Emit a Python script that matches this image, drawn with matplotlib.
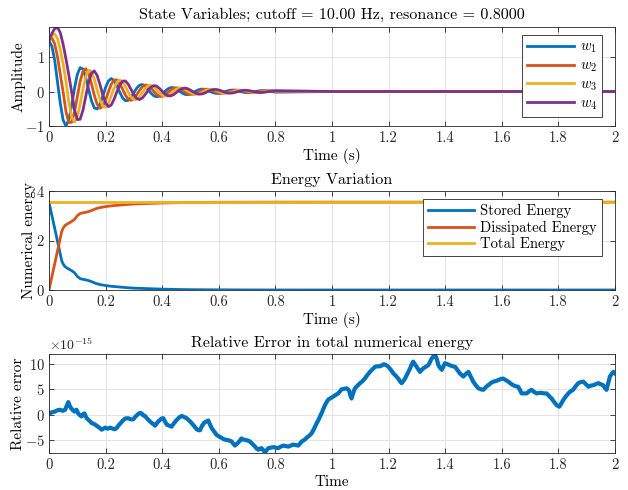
import numpy as np
import matplotlib
matplotlib.use("Agg")
import matplotlib.pyplot as plt
from matplotlib.ticker import ScalarFormatter

plt.rcParams['font.family'] = 'serif'
plt.rcParams['font.serif'] = ['cmr10']
plt.rcParams['mathtext.fontset'] = 'cm'
plt.rcParams['axes.unicode_minus'] = False
plt.rcParams['axes.formatter.use_mathtext'] = True

# MATLAB default colour order
c_blue, c_orange, c_yellow, c_purple = '#0072BD', '#D95319', '#EDB120', '#7E2F8E'

# --- state variables (0.01 s steps up to 0.8 s) ---
t_state = list(np.round(np.arange(0, 0.805, 0.01), 2)) + [1.0, 2.0]
w1 = [1.48, 1.33, 0.92, 0.28, -0.35, -0.84, -1.01, -0.83, -0.41, 0.085,
      0.50, 0.70, 0.66, 0.41, 0.063, -0.27, -0.48, -0.51, -0.38, -0.14,
      0.12, 0.31, 0.38, 0.32, 0.17, -0.023, -0.185, -0.269, -0.259, -0.167,
      -0.032, 0.100, 0.186, 0.204, 0.155, 0.061, -0.043, -0.123, -0.155, -0.135,
      -0.073, 0.006, 0.076, 0.114, 0.113, 0.075, 0.017, -0.042, -0.082, -0.092,
      -0.072, -0.030, 0.018, 0.055, 0.072, 0.064, 0.036, -0.001, -0.034, -0.054,
      -0.054, -0.037, -0.010, 0.019, 0.038, 0.044, 0.035, 0.015, -0.007, -0.026,
      -0.034, -0.031, -0.018, 0.000, 0.016, 0.026, 0.026, 0.018, 0.005, -0.008,
      -0.018, 0.0, 0.0]
w2 = [1.50, 1.57, 1.40, 1.02, 0.50, -0.02, -0.591, -0.909, -0.900, -0.605,
      -0.153, 0.293, 0.592, 0.667, 0.525, 0.229, -0.106, -0.371, -0.489, -0.436,
      -0.250, -0.006, 0.212, 0.337, 0.341, 0.236, 0.067, -0.104, -0.224, -0.259,
      -0.208, -0.096, 0.035, 0.142, 0.192, 0.175, 0.104, 0.007, -0.083, -0.137,
      -0.142, -0.102, -0.032, 0.041, 0.094, 0.111, 0.092, 0.045, -0.013, -0.061,
      -0.085, -0.080, -0.049, -0.006, 0.036, 0.063, 0.067, 0.049, 0.017, -0.018,
      -0.043, -0.053, -0.044, -0.023, 0.005, 0.028, 0.041, 0.039, 0.024, 0.004,
      -0.016, -0.029, -0.032, -0.024, -0.009, 0.008, 0.020, 0.025, 0.022, 0.011,
      -0.002, 0.0, 0.0]
w3 = [1.50, 1.64, 1.69, 1.55, 1.22, 0.80, 0.30, -0.310, -0.748, -0.895,
      -0.740, -0.368, 0.076, 0.442, 0.625, 0.587, 0.368, 0.056, -0.240, -0.427,
      -0.457, -0.336, -0.123, 0.105, 0.273, 0.335, 0.284, 0.148, -0.021, -0.165,
      -0.239, -0.231, -0.149, -0.028, 0.089, 0.166, 0.181, 0.138, 0.054, -0.038,
      -0.109, -0.138, -0.120, -0.065, 0.005, 0.067, 0.102, 0.100, 0.067, 0.015,
      -0.037, -0.073, -0.082, -0.064, -0.027, 0.016, 0.049, 0.064, 0.057, 0.032,
      -0.001, -0.031, -0.048, -0.048, -0.033, -0.008, 0.017, 0.034, 0.039, 0.031,
      0.014, -0.006, -0.023, -0.030, -0.027, -0.016, 0.000, 0.014, 0.023, 0.023,
      0.016, 0.0, 0.0]
w4 = [1.50, 1.70, 1.84, 1.88, 1.72, 1.38, 0.95, 0.48, -0.014, -0.535,
      -0.822, -0.813, -0.547, -0.139, 0.265, 0.536, 0.604, 0.474, 0.207, -0.096,
      -0.336, -0.442, -0.394, -0.226, -0.006, 0.191, 0.305, 0.309, 0.213, 0.061,
      -0.094, -0.202, -0.235, -0.188, -0.087, 0.032, 0.128, 0.173, 0.159, 0.094,
      0.007, -0.075, -0.124, -0.129, -0.092, -0.029, 0.037, 0.085, 0.101, 0.083,
      0.040, -0.012, -0.055, -0.077, -0.072, -0.045, -0.005, 0.033, 0.057, 0.060,
      0.044, 0.015, -0.016, -0.039, -0.048, -0.040, -0.020, 0.004, 0.026, 0.037,
      0.035, 0.022, 0.003, -0.015, -0.026, -0.029, -0.022, -0.008, 0.007, 0.018,
      0.023, 0.0, 0.0]
state_labels = ['$w_1$', '$w_2$', '$w_3$', '$w_4$']

# --- energy ---
t_energy = [0, 0.01, 0.02, 0.03, 0.04, 0.045, 0.05, 0.057, 0.065, 0.08, 0.09,
            0.10, 0.11, 0.12, 0.13, 0.14, 0.15, 0.16, 0.17, 0.18, 0.20, 0.22,
            0.25, 0.28, 0.30, 0.35, 0.40, 0.45, 0.50, 0.60, 0.70, 0.80, 1.0, 2.0]
stored = [3.55, 3.02, 2.50, 1.97, 1.44, 1.18, 1.05, 0.94, 0.88, 0.78, 0.70,
          0.55, 0.46, 0.43, 0.41, 0.38, 0.34, 0.29, 0.25, 0.22, 0.18, 0.15,
          0.12, 0.09, 0.075, 0.055, 0.035, 0.022, 0.014, 0.007, 0.003, 0.001, 0.0, 0.0]
dissipated = [0.0, 0.53, 1.05, 1.58, 2.11, 2.37, 2.50, 2.61, 2.67, 2.77, 2.85,
              3.00, 3.09, 3.12, 3.14, 3.17, 3.21, 3.26, 3.30, 3.33, 3.37, 3.40,
              3.43, 3.46, 3.475, 3.495, 3.515, 3.528, 3.536, 3.543, 3.547, 3.549, 3.55, 3.55]
total = [3.55] * len(t_energy)

# --- relative error (units of 1e-15) ---
err_t = [0, 0.01, 0.021, 0.03, 0.039, 0.048, 0.057, 0.063, 0.068, 0.073, 0.078, 0.085, 0.09,
         0.097, 0.104, 0.11, 0.115, 0.12, 0.125, 0.133, 0.142, 0.151, 0.16, 0.168, 0.178,
         0.186, 0.192, 0.198, 0.207, 0.216, 0.225, 0.233, 0.24, 0.245, 0.255, 0.263, 0.27,
         0.28, 0.29, 0.298, 0.306, 0.316, 0.322, 0.327, 0.333, 0.339, 0.348, 0.357, 0.366,
         0.375, 0.384, 0.392, 0.398, 0.404, 0.41, 0.416, 0.425, 0.433, 0.442, 0.451, 0.46,
         0.469, 0.477, 0.486, 0.495, 0.504, 0.513, 0.522, 0.528, 0.534, 0.54, 0.549, 0.556,
         0.563, 0.569, 0.575, 0.584, 0.592, 0.6, 0.61, 0.619, 0.628, 0.637, 0.645, 0.651,
         0.657, 0.663, 0.669, 0.675, 0.68, 0.685, 0.693, 0.702, 0.71, 0.719, 0.728, 0.734,
         0.74, 0.746, 0.751, 0.757, 0.763, 0.769, 0.775, 0.784, 0.793, 0.802, 0.81, 0.819,
         0.828, 0.837, 0.846, 0.855, 0.863, 0.872, 0.881, 0.887, 0.893, 0.902, 0.91, 0.919,
         0.928, 0.934, 0.94, 0.946, 0.952, 0.958, 0.963, 0.969, 0.975, 0.981, 0.987, 0.996,
         1.005, 1.013, 1.022, 1.028, 1.034, 1.043, 1.052, 1.06, 1.066, 1.069, 1.075, 1.081,
         1.09, 1.099, 1.108, 1.116, 1.125, 1.134, 1.143, 1.152, 1.161, 1.17, 1.177, 1.184,
         1.192, 1.199, 1.208, 1.217, 1.226, 1.234, 1.24, 1.246, 1.252, 1.258, 1.267, 1.276,
         1.281, 1.287, 1.293, 1.299, 1.305, 1.311, 1.317, 1.323, 1.331, 1.34, 1.346, 1.352,
         1.358, 1.364, 1.37, 1.376, 1.382, 1.388, 1.394, 1.399, 1.408, 1.417, 1.426, 1.435,
         1.443, 1.452, 1.458, 1.464, 1.473, 1.482, 1.49, 1.499, 1.508, 1.517, 1.526, 1.535,
         1.543, 1.552, 1.561, 1.57, 1.579, 1.588, 1.596, 1.605, 1.614, 1.623, 1.632, 1.64,
         1.649, 1.658, 1.664, 1.67, 1.679, 1.688, 1.696, 1.705, 1.714, 1.723, 1.732, 1.741,
         1.75, 1.758, 1.767, 1.776, 1.785, 1.794, 1.803, 1.81, 1.817, 1.826, 1.835, 1.843,
         1.852, 1.861, 1.87, 1.879, 1.888, 1.897, 1.906, 1.914, 1.923, 1.932, 1.941, 1.95,
         1.958, 1.964, 1.97, 1.976, 1.982, 1.988, 1.994, 2.0]
err_val = [0.2, 0.5, 0.65, 0.9, 1.0, 0.8, 1.0, 1.8, 2.5, 1.8, 1.3, 0.9, 0.65,
           1.0, 0.2, -0.1, -0.3, 0.1, 0.3, -0.65, -1.1, -1.6, -1.8, -2.1, -2.5,
           -2.9, -2.7, -2.5, -2.7, -2.5, -2.7, -2.8, -2.5, -2.1, -1.5, -1.0, -0.7,
           -0.65, -0.9, -0.85, -0.3, 0.2, 0.4, 0.3, -0.1, -0.2, -0.8, -1.3, -1.7,
           -2.1, -1.4, -1.0, -0.7, -0.65, -1.3, -1.9, -2.1, -2.3, -1.6, -1.0, -0.5,
           -0.2, -0.4, -0.65, -1.1, -1.6, -2.2, -2.8, -3.0, -3.0, -2.2, -1.5, -1.3,
           -1.1, -1.9, -2.6, -3.3, -3.9, -4.2, -4.5, -4.8, -4.9, -5.0, -5.2, -5.6,
           -6.0, -5.7, -5.4, -5.0, -4.6, -4.8, -4.9, -5.0, -5.2, -5.7, -6.2, -6.6,
           -6.8, -6.6, -6.5, -6.9, -7.3, -6.9, -6.5, -6.4, -6.3, -6.4, -6.5, -6.2,
           -6.0, -6.1, -6.2, -6.0, -5.8, -5.9, -6.0, -5.6, -5.2, -4.9, -4.5, -4.1,
           -3.6, -3.0, -2.3, -1.6, -1.0, -0.3, 0.3, 1.1, 1.9, 2.5, 3.0, 3.3,
           3.6, 3.9, 4.2, 4.6, 5.0, 5.1, 5.2, 4.8, 3.6, 3.2, 4.3, 5.2,
           5.7, 6.2, 6.6, 7.1, 7.8, 8.4, 8.9, 9.4, 9.5, 9.5, 9.7, 9.9,
           9.7, 9.4, 8.8, 8.1, 7.6, 7.1, 6.6, 6.2, 6.6, 7.1, 8.1, 9.1,
           9.8, 10.4, 9.9, 9.4, 8.9, 8.4, 8.8, 9.1, 9.4, 9.7, 10.3, 11.0,
           11.4, 11.7, 11.0, 9.7, 9.2, 8.8, 9.5, 10.1, 9.9, 9.7, 9.5, 9.4,
           8.8, 8.1, 7.8, 7.5, 8.0, 8.4, 7.5, 6.5, 5.8, 5.2, 5.0, 4.9,
           5.4, 5.8, 6.2, 6.5, 6.6, 6.8, 7.0, 7.1, 6.8, 6.5, 6.1, 5.8,
           5.6, 5.5, 4.9, 4.2, 4.2, 4.2, 4.6, 4.9, 4.5, 4.2, 4.3, 4.3,
           4.2, 4.2, 3.7, 3.2, 2.5, 1.9, 1.6, 2.2, 2.9, 3.6, 4.2, 4.6,
           4.9, 5.6, 6.2, 6.4, 6.5, 6.0, 5.5, 5.7, 5.8, 6.0, 6.2, 6.0,
           5.8, 5.3, 4.9, 6.2, 7.5, 8.0, 8.4, 8.1]

W, H = 628, 490
fig = plt.figure(figsize=(W / 100, H / 100), dpi=100)


def make_axes(top_px, bottom_px):
    ax = fig.add_axes([49 / W, 1 - bottom_px / H, 566 / W, (bottom_px - top_px) / H])
    ax.grid(True, color='#e3e3e3', linewidth=0.7)
    ax.set_axisbelow(True)
    ax.tick_params(direction='in', top=True, right=True, length=3.5, width=0.6,
                   labelsize=10.5, colors='#262626', pad=4)
    ax.tick_params(axis='y', pad=3)
    for s in ax.spines.values():
        s.set_color('#262626')
        s.set_linewidth(0.6)
    ax.set_xlim(0, 2)
    ax.set_xticks(np.arange(0, 2.01, 0.2))
    ax.set_xticklabels(['0', '0.2', '0.4', '0.6', '0.8', '1', '1.2', '1.4', '1.6', '1.8', '2'])
    return ax


def add_legend(ax, **kw):
    leg = ax.legend(loc='upper right', bbox_to_anchor=(1 - 13 / 566, 1 - 8 / 99),
                    borderaxespad=0, fancybox=False, framealpha=1, edgecolor='#262626',
                    fontsize=10.5, handlelength=3.2, handletextpad=0.4,
                    borderpad=0.35, **kw)
    leg.get_frame().set_linewidth(0.6)
    return leg


# panel 1
ax1 = make_axes(27, 126)
for w, c, lab in zip([w1, w2, w3, w4], [c_blue, c_orange, c_yellow, c_purple], state_labels):
    ax1.plot(t_state, w, color=c, linewidth=2, label=lab)
ax1.set_ylim(-1.01, 1.89)
ax1.set_yticks([-1, 0, 1])
ax1.set_title('State Variables; cutoff = 10.00 Hz, resonance = 0.8000', fontsize=11.5, pad=6)
ax1.set_xlabel('Time (s)', fontsize=11, labelpad=2)
ax1.set_ylabel('Amplitude', fontsize=11, labelpad=0)
add_legend(ax1, labelspacing=0.25)

# panel 2
ax2 = make_axes(191, 290)
ax2.plot(t_energy, stored, color=c_blue, linewidth=2, label='Stored Energy')
ax2.plot(t_energy, dissipated, color=c_orange, linewidth=2, label='Dissipated Energy')
ax2.plot(t_energy, total, color=c_yellow, linewidth=2, label='Total Energy')
ax2.set_ylim(0, 4)
ax2.set_yticks([0, 2, 4])
ax2.set_title('Energy Variation', fontsize=11.5, pad=5)
ax2.set_xlabel('Time (s)', fontsize=11, labelpad=2)
ax2.set_ylabel('Numerical energy', fontsize=11, labelpad=0)
add_legend(ax2, labelspacing=0.15)

# panel 3
ax3 = make_axes(354, 453)
ax3.plot(err_t, np.array(err_val) * 1e-15, color=c_blue, linewidth=3.0)
ax3.set_ylim(-7.45e-15, 11.9e-15)
ax3.set_yticks([-5e-15, 0, 5e-15, 10e-15])
fmt = ScalarFormatter(useMathText=True)
fmt.set_powerlimits((-15, -15))
ax3.yaxis.set_major_formatter(fmt)
ax3.yaxis.get_offset_text().set_fontsize(10)
ax3.set_title('Relative Error in total numerical energy', fontsize=11.5, pad=5)
ax3.set_xlabel('Time', fontsize=11, labelpad=2)
ax3.set_ylabel('Relative error', fontsize=11, labelpad=0)

fig.savefig('out.png', dpi=100)
